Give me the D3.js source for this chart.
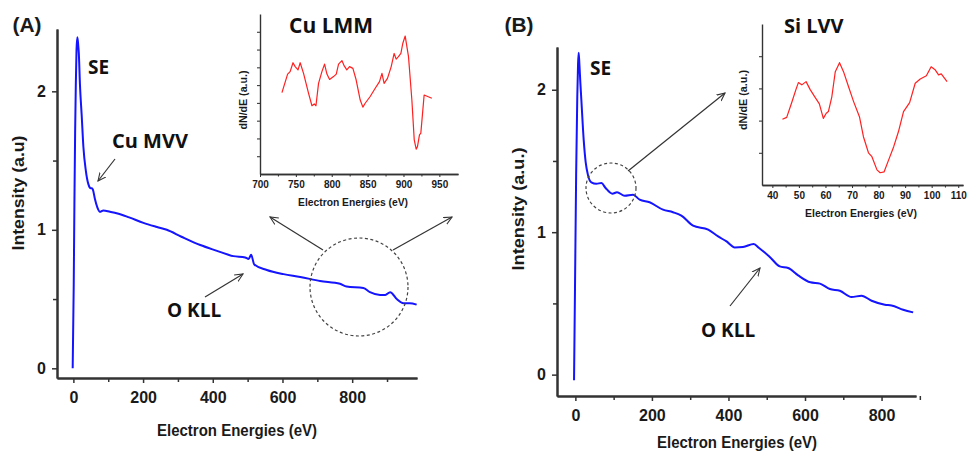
<html>
  <head>
    <style>
      body { margin: 0; background: #fff; }
      text { font-family: "Liberation Sans", Arial, sans-serif; }
      .note { font-family: "Open Sans", sans-serif; font-weight: 700; fill: #111; }
    </style>
  </head>
  <body>
    <svg width="968" height="454"></svg>
    <script src="https://d3js.org/d3.v7.min.js"></script>
    <script>
      // ---- panel A : Cu survey ----
      var aEnergy    = [-2, 1, 3, 5, 7, 9, 11.5, 14, 15.5, 19, 24, 28.7, 35.6, 43, 50, 53, 56, 62, 69, 76, 86, 105, 124, 160,
                        201, 240, 268, 310, 364, 410, 459, 493, 503, 510, 519, 555, 603, 651, 708, 765, 784, 832, 851,
                        880, 895, 909, 928, 947, 965, 985];
      var aIntensity = [0, 0.6, 1.2, 1.7, 2.05, 2.3, 2.39, 2.33, 2.28, 2.04, 1.82, 1.60, 1.43, 1.33, 1.30, 1.30, 1.29,
                        1.22, 1.16, 1.13, 1.14, 1.13, 1.12, 1.09, 1.05, 1.02, 1.0, 0.95, 0.89, 0.85, 0.81, 0.80, 0.79,
                        0.82, 0.75, 0.71, 0.68, 0.66, 0.63, 0.61, 0.59, 0.58, 0.55, 0.53, 0.53, 0.55, 0.50, 0.47, 0.47, 0.46];

      // inset A : Cu LMM derivative
      var cuEnergy = [730.6, 738.5, 742, 746, 749, 753, 756, 760.7, 767.7, 772.4, 775.6, 778, 781.6, 786.3, 790, 793.3,
                      797, 802.5, 806.3, 809.5, 814.2, 817.4, 821, 824.8, 829.5, 834, 839.7, 843.4, 846.6, 853.6, 860.6,
                      866.6, 870, 873, 877.7, 882.9, 887, 889.8, 893, 896.4, 899, 902.4, 907, 911.7, 915, 917.7, 919.5,
                      922.3, 924.2, 928.8, 939.5];
      var cuSignal = [2.29, 2.81, 2.88, 3.13, 3.02, 2.93, 3.13, 2.83, 2.27, 1.92, 1.97, 1.92, 2.55, 2.88, 3.09, 2.81,
                      2.66, 2.74, 2.81, 3.09, 3.19, 3.04, 2.93, 3.02, 2.97, 2.65, 2.08, 1.88, 1.99, 2.18, 2.41,
                      2.6, 2.83, 2.55, 2.69, 3.02, 3.39, 3.23, 3.3, 3.39, 3.67, 3.88, 3.3, 2.08, 0.96, 0.7, 0.77,
                      1.1, 1.15, 2.22, 2.13];

      // ---- panel B : Si survey ----
      var bEnergy    = [-3.5, -1, 2, 5, 7, 8.6, 10.5, 13, 15.6, 21.7, 27, 33, 41.8, 54.9, 68, 79, 96.7, 108.8, 128.9,
                        150.6, 168, 194, 229, 255, 277, 307.5, 347, 373, 395, 416.5, 438, 466, 480, 508, 534, 556, 582,
                        614, 639, 665, 691, 721.6, 747.7, 774, 808.6, 826, 856.5, 882.6];
      var bIntensity = [-0.04, 0.6, 1.4, 1.95, 2.18, 2.26, 2.18, 2.05, 1.93, 1.65, 1.49, 1.40, 1.35, 1.34, 1.345, 1.31,
                        1.27, 1.28, 1.256, 1.263, 1.228, 1.21, 1.158, 1.14, 1.116, 1.046, 1.018, 0.97, 0.935, 0.893,
                        0.896, 0.917, 0.889, 0.826, 0.76, 0.749, 0.697, 0.648, 0.639, 0.601, 0.589, 0.545, 0.554,
                        0.519, 0.491, 0.486, 0.456, 0.437];

      // inset B : Si LVV derivative
      var siEnergy = [43.8, 45.4, 47.3, 48.9, 49.8, 51.1, 52.7, 54.2, 56.1, 57.7, 59.2, 60.3, 61.1, 62.4, 63.7, 65.3,
                      66.8, 68.7, 70.6, 72.8, 74.3, 76.2, 77.5, 79.4, 80.6, 82.1, 83.8, 85.7, 87.5, 89.4, 91.7, 93.8,
                      95.7, 98, 99.8, 101.4, 102.6, 103.6, 105.8];
      var siSignal = [2.04, 2.10, 2.56, 2.97, 3.18, 3.11, 3.21, 2.97, 2.72, 2.52, 2.07, 2.23, 2.28, 2.74, 3.52, 3.8,
                      3.52, 3.05, 2.59, 2.12, 1.5, 1.0, 0.88, 0.47, 0.38, 0.41, 0.78, 1.19, 1.66, 2.28, 2.56, 3.16,
                      3.29, 3.39, 3.67, 3.57, 3.42, 3.45, 3.21];

      // tick values
      var mainXMajor  = [0, 200, 400, 600, 800],
          mainXMinor  = [100, 300, 500, 700, 900],
          mainYMajor  = [0, 1, 2],
          mainYMinor  = [0.5, 1.5],
          cuXMajor    = [700, 750, 800, 850, 900, 950],
          cuXMinor    = [725, 775, 825, 875, 925],
          cuYTicks    = [0.5, 1, 1.5, 2, 2.5, 3, 3.5, 4],
          siXMajor    = [40, 50, 60, 70, 80, 90, 100, 110],
          siXMinor    = [45, 55, 65, 75, 85, 95, 105],
          siYTicks    = [1, 2, 3, 4];

      var svg = d3.select("svg");

      svg.append("defs").append("marker")
          .attr("id", "arrow")
          .attr("viewBox", "0 0 10 10")
          .attr("refX", 9).attr("refY", 5)
          .attr("markerWidth", 9).attr("markerHeight", 9)
          .attr("markerUnits", "userSpaceOnUse")
          .attr("orient", "auto")
        .append("path")
          .attr("d", "M0,0.8 L9,5 L0,9.2")
          .attr("fill", "none")
          .attr("stroke", "#333")
          .attr("stroke-width", 1.2);

      function zip(xs, ys) {
        return xs.map(function(v, i) { return [v, ys[i]]; });
      }

      function plot(o) {
        var x = d3.scaleLinear().domain(o.xDomain).range(o.xRange),
            y = d3.scaleLinear().domain(o.yDomain).range(o.yRange),
            g = svg.append("g");

        g.append("g")
            .attr("transform", "translate(0," + o.yRange[0] + ")")
            .call(d3.axisBottom(x).tickValues(o.xMinor).tickSize(o.minor).tickSizeOuter(0).tickFormat(""));
        g.append("g")
            .attr("transform", "translate(0," + o.yRange[0] + ")")
            .call(d3.axisBottom(x).tickValues(o.xMajor).tickSize(o.major).tickSizeOuter(0)
                  .tickPadding(o.xPad).tickFormat(d3.format("d")));
        if (o.yMinor)
          g.append("g")
              .attr("transform", "translate(" + o.xRange[0] + ",0)")
              .call(d3.axisLeft(y).tickValues(o.yMinor).tickSize(o.minor).tickSizeOuter(0).tickFormat(""));
        g.append("g")
            .attr("transform", "translate(" + o.xRange[0] + ",0)")
            .call(d3.axisLeft(y).tickValues(o.yMajor).tickSize(o.major).tickSizeOuter(0)
                  .tickPadding(o.yPad).tickFormat(o.yLabels ? d3.format("d") : ""));

        g.selectAll(".domain").attr("stroke", "#333").attr("stroke-width", o.axisWidth);
        g.selectAll(".tick line").attr("stroke", "#333").attr("stroke-width", o.axisWidth * 0.75);
        g.selectAll(".tick text")
            .attr("fill", "#1a1a1a")
            .style("font-size", o.tickFont + "px")
            .style("font-weight", "bold");

        g.append("path")
            .datum(zip(o.xs, o.ys))
            .attr("fill", "none")
            .attr("stroke", o.color)
            .attr("stroke-width", o.lineWidth)
            .attr("stroke-linejoin", "round")
            .attr("d", d3.line()
                .curve(o.curve)
                .x(function(d) { return x(d[0]); })
                .y(function(d) { return y(d[1]); }));
        return g;
      }

      // axis titles: bold, stretched to the measured length
      function title(x, y, str, size, len, rotate) {
        return svg.append("text")
            .attr("transform", "translate(" + x + "," + y + ")" + (rotate ? " rotate(-90)" : ""))
            .attr("text-anchor", "middle")
            .attr("dominant-baseline", "central")
            .attr("textLength", len)
            .attr("lengthAdjust", "spacingAndGlyphs")
            .attr("fill", "#1a1a1a")
            .style("font-size", size + "px")
            .style("font-weight", "bold")
            .text(str);
      }

      function note(x, y, str, size) {
        return svg.append("text")
            .attr("class", "note")
            .attr("x", x).attr("y", y)
            .attr("dominant-baseline", "central")
            .style("font-size", size + "px")
            .text(str);
      }

      function arrow(x1, y1, x2, y2) {
        svg.append("line")
            .attr("x1", x1).attr("y1", y1).attr("x2", x2).attr("y2", y2)
            .attr("stroke", "#333").attr("stroke-width", 1.2)
            .attr("marker-end", "url(#arrow)");
      }

      function ring(cx, cy, r) {
        svg.append("circle")
            .attr("cx", cx).attr("cy", cy).attr("r", r)
            .attr("fill", "none").attr("stroke", "#444")
            .attr("stroke-width", 1.2).attr("stroke-dasharray", "3,2.5");
      }

      // ---- main panels ----
      plot({ xDomain: [-47, 986], xRange: [57, 417], yDomain: [-0.07, 2.45], yRange: [378, 29],
             xMajor: mainXMajor, xMinor: mainXMinor, yMajor: mainYMajor, yMinor: mainYMinor, yLabels: true,
             major: 5, minor: 4, xPad: 9, yPad: 6, axisWidth: 2, tickFont: 16,
             xs: aEnergy, ys: aIntensity, color: "#1414ff", lineWidth: 2, curve: d3.curveMonotoneX });

      plot({ xDomain: [-48, 890], xRange: [557, 916], yDomain: [-0.15, 2.3], yRange: [396, 47],
             xMajor: mainXMajor, xMinor: mainXMinor, yMajor: mainYMajor, yMinor: mainYMinor, yLabels: true,
             major: 5, minor: 4, xPad: 9, yPad: 6, axisWidth: 2, tickFont: 16,
             xs: bEnergy, ys: bIntensity, color: "#1414ff", lineWidth: 2, curve: d3.curveMonotoneX });

      // ---- insets ----
      plot({ xDomain: [700, 976], xRange: [260, 458], yDomain: [0, 4.5], yRange: [174, 14],
             xMajor: cuXMajor, xMinor: cuXMinor, yMajor: cuYTicks, yLabels: false,
             major: 3, minor: 2.5, xPad: 4, yPad: 3, axisWidth: 1.4, tickFont: 10,
             xs: cuEnergy, ys: cuSignal, color: "#ff2020", lineWidth: 1.2, curve: d3.curveLinear });

      plot({ xDomain: [36.1, 111.8], xRange: [762, 963], yDomain: [0, 5], yRange: [185, 24],
             xMajor: siXMajor, xMinor: siXMinor, yMajor: siYTicks, yLabels: false,
             major: 3, minor: 2.5, xPad: 4, yPad: 3, axisWidth: 1.4, tickFont: 10,
             xs: siEnergy, ys: siSignal, color: "#ff2020", lineWidth: 1.2, curve: d3.curveLinear });

      // ---- axis titles ----
      title(27, 25, "(A)", 20, 29);
      title(18, 193, "Intensity (a.u)", 17, 115, true);
      title(237, 430, "Electron Energies (eV)", 17, 160);
      title(243, 100, "dN/dE (a.u.)", 10.5, 59, true);
      title(353, 202, "Electron Energies (eV)", 11, 110);

      title(519, 25, "(B)", 20, 29);
      title(518, 209, "Intensity (a.u.)", 17, 123, true);
      title(737, 442, "Electron Energies (eV)", 17, 160);
      title(743, 100, "dN/dE (a.u.)", 10.5, 60, true);
      title(861, 213, "Electron Energies (eV)", 11, 112);

      // ---- annotations ----
      note(88, 67, "SE", 19);
      note(112, 140, "Cu MVV", 20);
      note(167, 310, "O KLL", 19);
      note(289, 25, "Cu LMM", 21);
      arrow(115, 159, 98, 181);
      arrow(205, 297, 243, 274);
      ring(359, 287, 49);
      arrow(323, 250, 270, 217);
      arrow(393, 250, 452, 217);

      note(590, 68, "SE", 19);
      note(701, 330, "O KLL", 19);
      note(784, 25, "Si LVV", 20);
      arrow(730, 306, 760, 268);
      ring(611, 188, 25);
      arrow(628, 171, 725, 93);
    </script>
  </body>
</html>
